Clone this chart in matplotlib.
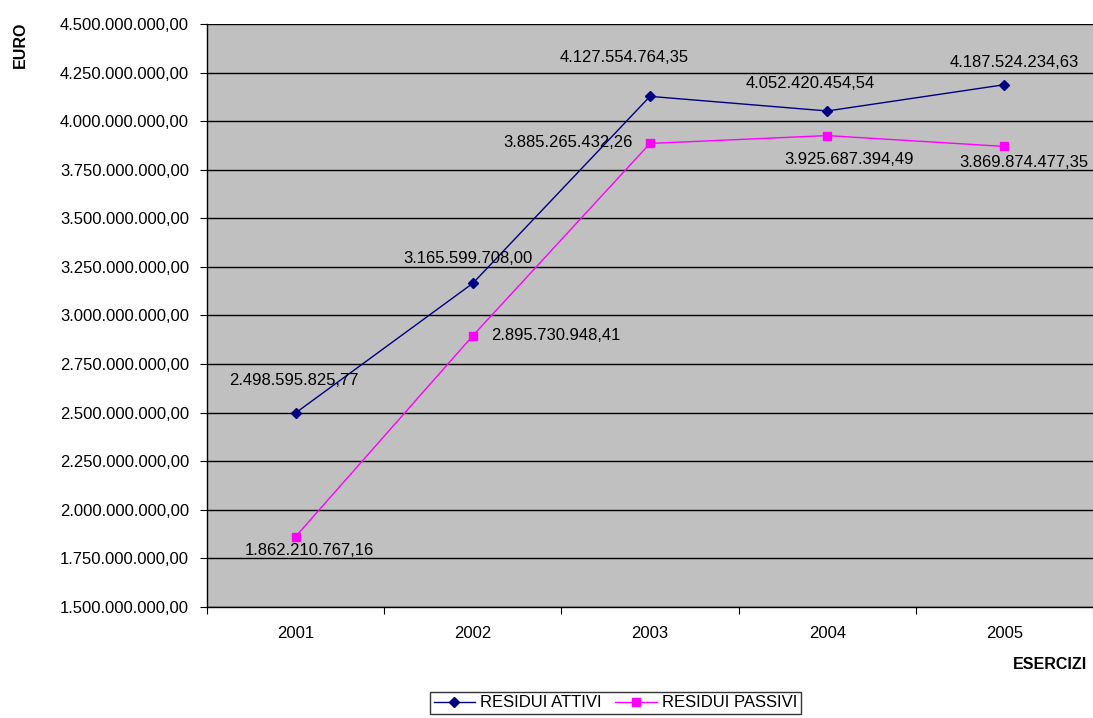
import matplotlib.pyplot as plt
from matplotlib.ticker import FuncFormatter, FixedLocator

plt.rcParams["font.family"] = ["Liberation Sans", "DejaVu Sans"]

years = ["2001", "2002", "2003", "2004", "2005"]
residui_attivi = [2498595825.77, 3165599708.00, 4127554764.35, 4052420454.54, 4187524234.63]
residui_passivi = [1862210767.16, 2895730948.41, 3885265432.26, 3925687394.49, 3869874477.35]


def fmt_it(v, pos=None):
    s = f"{v:,.2f}"
    return s.replace(",", "X").replace(".", ",").replace("X", ".")


fig = plt.figure(figsize=(10.93, 7.18), dpi=100)
ax = fig.add_axes([0.1894, 0.1546, 0.8106, 0.812])
ax.set_facecolor("#C0C0C0")

x = list(range(len(years)))
ax.plot(x, residui_attivi, color="#000080", lw=1, marker="D", ms=5,
        label="RESIDUI ATTIVI", zorder=3)
ax.plot(x, residui_passivi, color="#FF00FF", lw=1, marker="s", ms=6,
        label="RESIDUI PASSIVI", zorder=3)

# label offsets in pixels (dx, dy)
off_att = [(-2, 32), (-5, 25), (-26, 39), (-17, 27), (10, 22)]
off_pas = [(14, -14), (83, 0), (-82, 1), (22, -24), (19, -16)]
for i in x:
    ax.annotate(fmt_it(residui_attivi[i]), (i, residui_attivi[i]),
                xytext=off_att[i], textcoords="offset pixels",
                ha="center", va="center", fontsize=12, zorder=4)
    ax.annotate(fmt_it(residui_passivi[i]), (i, residui_passivi[i]),
                xytext=off_pas[i], textcoords="offset pixels",
                ha="center", va="center", fontsize=12, zorder=4,
                annotation_clip=False)

ax.set_xlim(-0.5, 4.5)
ax.set_ylim(1.5e9, 4.5e9)
ax.yaxis.set_major_locator(FixedLocator([1.5e9 + 0.25e9 * k for k in range(13)]))
ax.yaxis.set_major_formatter(FuncFormatter(fmt_it))
ax.grid(axis="y", color="black", lw=1, zorder=1)
ax.set_axisbelow(True)

ax.set_xticks([k - 0.5 for k in range(6)])
ax.set_xticklabels([])
ax.set_xticks(x, minor=True)
ax.set_xticklabels(years, minor=True)
ax.tick_params(axis="x", which="major", direction="out", length=5, color="black")
ax.tick_params(axis="x", which="minor", length=0, pad=14, labelsize=12)
ax.tick_params(axis="y", direction="out", length=5, labelsize=12, pad=8)

for s in ["top", "right"]:
    ax.spines[s].set_visible(False)
for s in ["left", "bottom"]:
    ax.spines[s].set_color("black")
    ax.spines[s].set_linewidth(1)

fig.text(0.019, 0.937, "EURO", rotation=90, fontsize=11.5, fontweight="bold",
         ha="center", va="center")
fig.text(0.961, 0.074, "ESERCIZI", fontsize=11.5, fontweight="bold",
         ha="center", va="center")

leg = fig.legend(loc="upper center", bbox_to_anchor=(0.5631, 0.0362), ncol=2,
                 fontsize=12, frameon=True, fancybox=False, handlelength=2.5,
                 handletextpad=0.3, columnspacing=0.8, borderpad=0.2,
                 borderaxespad=0)
leg.get_frame().set_edgecolor("black")
leg.get_frame().set_linewidth(1)

fig.savefig("out.png", dpi=100)
